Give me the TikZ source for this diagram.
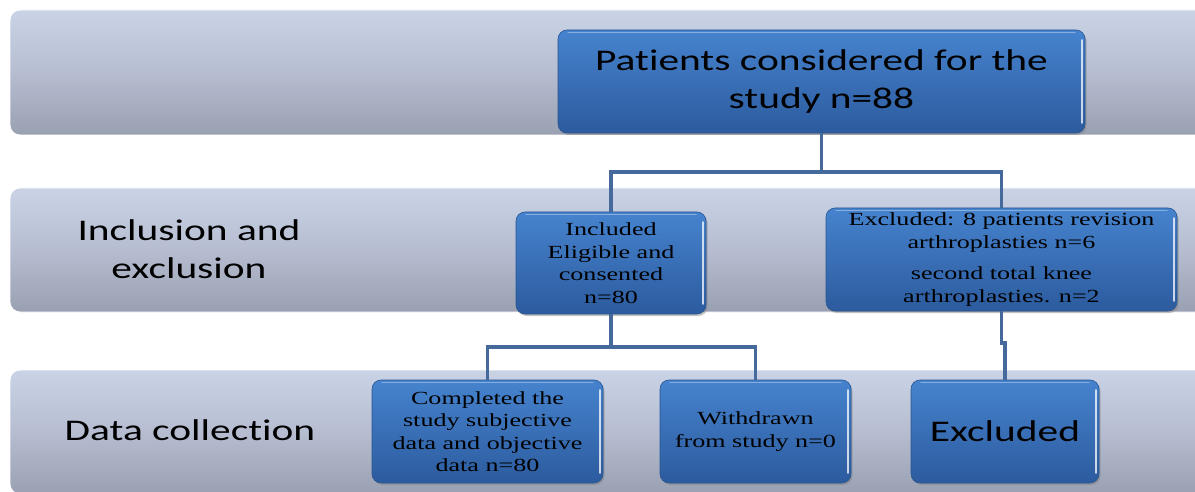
\documentclass[tikz,border=0pt]{standalone}
\usepackage{fontspec}
\setmainfont[FakeStretch=1.41]{Liberation Serif}
\newfontfamily\boxsans[FakeStretch=1.38, Ligatures=NoCommon]{Carlito}
\usetikzlibrary{shadows}

\definecolor{bandtop}{HTML}{CAD3E6}
\definecolor{bandmid}{HTML}{B6BDD0}
\definecolor{bandbot}{HTML}{99A0B2}
\definecolor{boxtop}{HTML}{4683CE}
\definecolor{boxbot}{HTML}{2C5B9E}
\definecolor{boxedge}{HTML}{2A5590}
\definecolor{linkblue}{HTML}{46699C}

\tikzset{
  band/.style={rounded corners=10pt, draw=white, line width=0.8pt,
    top color=bandtop, bottom color=bandbot, middle color=bandmid},
  flowbox/.style={rounded corners=9pt, draw=boxedge, line width=0.6pt,
    top color=boxtop, bottom color=boxbot,
    drop shadow={shadow xshift=1.5pt, shadow yshift=-2pt, opacity=0.45},
    path picture={
      \draw[white, opacity=0.75, line width=1.6pt, line cap=round]
        ([xshift=-3pt, yshift=-10pt]path picture bounding box.north east)
        -- ([xshift=-3pt, yshift=10pt]path picture bounding box.south east);
      \draw[white, opacity=0.35, line width=1.2pt, line cap=round]
        ([xshift=10pt, yshift=-2.5pt]path picture bounding box.north west)
        -- ([xshift=-10pt, yshift=-2.5pt]path picture bounding box.north east);},
    align=center, inner sep=2pt, text=black},
  sansbig/.style={font=\boxsans\fontsize{30}{38}\selectfont},
  serifsmall/.style={font=\fontsize{18.5}{22.5}\selectfont},
  link/.style={draw=linkblue, line width=3.5pt}
}

\begin{document}
\begin{tikzpicture}[x=1pt, y=-1pt]
  \useasboundingbox (0,0) rectangle (1195,492);
  {
  % Drawing background bands
  \fill[white] (0,0) rectangle (1195,492);
  \path[band] (10,10) rectangle (1207,135);
  \path[band] (10,188) rectangle (1207,312);
  \path[band] (10,370) rectangle (1207,494);

  % Marking band labels
  \node[sansbig, align=center] (lblincl) at (189,249) {Inclusion and\\exclusion};
  \node[sansbig] (lbldata) at (190,430) {Data collection};

  % Drawing box patients
  \node[flowbox, sansbig, minimum width=527pt, minimum height=103pt]
    (patients) at (821.5,81.5) {Patients considered for the\\study n=88};

  % Drawing boxes of inclusion and exclusion
  \node[flowbox, serifsmall, minimum width=190pt, minimum height=102pt]
    (incl) at (611,263) {Included\\Eligible and\\consented\\n=80};
  \node[flowbox, serifsmall, minimum width=351pt, minimum height=103pt]
    (excl) at (1001.5,259.5) {Excluded: 8 patients revision\\arthroplasties n=6\\[9pt]
      second total knee\\arthroplasties. n=2};

  % Drawing boxes of data collection
  \node[flowbox, serifsmall, minimum width=231pt, minimum height=103pt]
    (compl) at (487.5,431.5) {Completed the\\study subjective\\data and objective\\data n=80};
  \node[flowbox, serifsmall, minimum width=191pt, minimum height=103pt]
    (withd) at (755.5,431.5) {Withdrawn\\from study n=0};
  \node[flowbox, sansbig, minimum width=188pt, minimum height=103pt]
    (exclfin) at (1005,431.5) {Excluded};

  % Drawing connectors
  \coordinate (splittop) at (821.5,172);
  \coordinate (splitincl) at (611,347);
  \coordinate (jogexcl) at (1001.5,343);
  \draw[link] (patients.south) -- (splittop) -| (incl.north);
  \draw[link] (splittop) -| (excl.north);
  \draw[link] (incl.south) -- (splitincl) -| (compl.north);
  \draw[link] (splitincl) -| (withd.north);
  \draw[link] (excl.south) -- (jogexcl) -| (exclfin.north);
  }
\end{tikzpicture}
\end{document}
